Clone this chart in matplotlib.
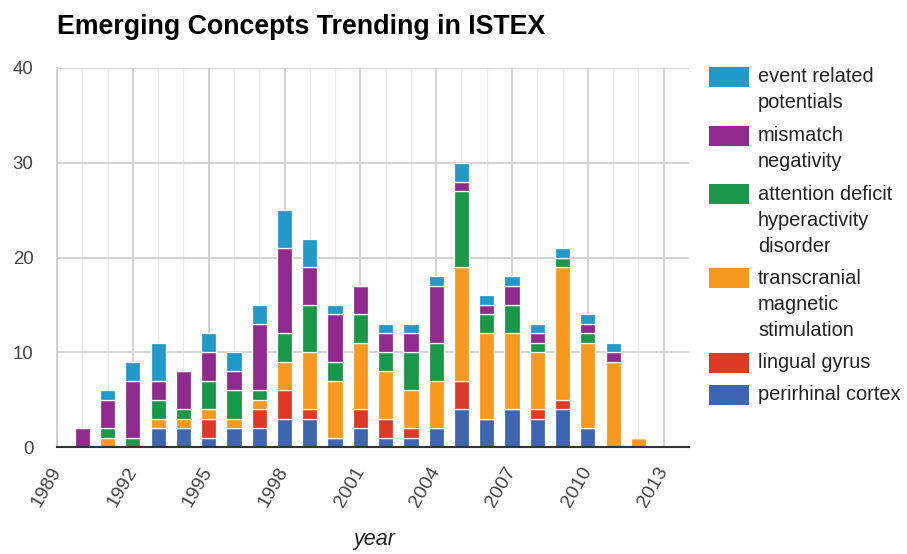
import matplotlib
matplotlib.use('Agg')
import matplotlib.pyplot as plt
from matplotlib.patches import Rectangle
import numpy as np

plt.rcParams['font.family'] = ['Liberation Sans', 'DejaVu Sans']

title = "Emerging Concepts Trending in ISTEX"
x_label = "year"

years = list(range(1990, 2013))
# stacked from bottom to top
perirhinal_cortex = [0, 0, 0, 2, 2, 1, 2, 2, 3, 3, 1, 2, 1, 1, 2, 4, 3, 4, 3, 4, 2, 0, 0]
lingual_gyrus = [0, 0, 0, 0, 0, 2, 0, 2, 3, 1, 0, 2, 2, 1, 0, 3, 0, 0, 1, 1, 0, 0, 0]
transcranial_magnetic_stimulation = [0, 1, 0, 1, 1, 1, 1, 1, 3, 6, 6, 7, 5, 4, 5, 12, 9, 8, 6, 14, 9, 9, 1]
attention_deficit = [0, 1, 1, 2, 1, 3, 3, 1, 3, 5, 2, 3, 2, 4, 4, 8, 2, 3, 1, 1, 1, 0, 0]
mismatch_negativity = [2, 3, 6, 2, 4, 3, 2, 7, 9, 4, 5, 3, 2, 2, 6, 1, 1, 2, 1, 0, 1, 1, 0]
event_related_potentials = [0, 1, 2, 4, 0, 2, 2, 2, 4, 3, 1, 0, 1, 1, 1, 2, 1, 1, 1, 1, 1, 1, 0]

series_names = ["perirhinal cortex", "lingual gyrus",
                "transcranial\nmagnetic\nstimulation",
                "attention deficit\nhyperactivity\ndisorder",
                "mismatch\nnegativity", "event related\npotentials"]
series_values = [perirhinal_cortex, lingual_gyrus, transcranial_magnetic_stimulation,
                 attention_deficit, mismatch_negativity, event_related_potentials]
series_colors = ["#3e65b0", "#dc3a26", "#f7981f", "#1a9748", "#912a8d", "#2299c9"]

y_ticks = [0, 10, 20, 30, 40]
x_major_ticks = [1989, 1992, 1995, 1998, 2001, 2004, 2007, 2010, 2013]

W, H = 907, 554
fig = plt.figure(figsize=(W / 100, H / 100), dpi=100)
ax = fig.add_axes([57 / W, 1 - 447 / H, (689 - 57) / W, (447 - 68) / H])

bottom = np.zeros(len(years))
for vals, col in zip(series_values, series_colors):
    v = np.array(vals, dtype=float)
    ax.bar(years, v, bottom=bottom, width=0.6, color=col, edgecolor='white',
           linewidth=0.9, zorder=3)
    bottom += v

ax.set_xlim(1989, 2014)
ax.set_ylim(0, 40)
ax.set_yticks(y_ticks)
ax.set_yticklabels([str(t) for t in y_ticks])
ax.set_xticks(x_major_ticks)
ax.set_xticklabels([str(t) for t in x_major_ticks], rotation=60, ha='right',
                   va='center', rotation_mode='anchor')
ax.set_xticks(list(range(1989, 2014)), minor=True)

ax.tick_params(axis='x', which='major', length=0, pad=15, labelsize=14, labelcolor='#444444')
ax.tick_params(axis='x', which='minor', length=0)
ax.tick_params(axis='y', length=0, pad=17, labelsize=13.4, labelcolor='#444444')

ax.grid(axis='x', which='minor', color='#ebebeb', linewidth=1.0, zorder=0)
ax.grid(axis='x', which='major', color='#cccccc', linewidth=1.2, zorder=1)
ax.grid(axis='y', which='major', color='#cccccc', linewidth=1.2, zorder=1)

for s in ['top', 'right']:
    ax.spines[s].set_visible(False)
ax.spines['left'].set_color('#cccccc')
ax.spines['left'].set_linewidth(1.2)
ax.spines['bottom'].set_color('#333333')
ax.spines['bottom'].set_linewidth(1.5)
ax.spines['bottom'].set_zorder(4)

ax.set_xlabel(x_label, fontsize=15.5, style='italic', color='#222222', va='center')
ax.xaxis.set_label_coords((374 - 57) / (689 - 57), -(539 - 447) / (447 - 68))

fig.text(57 / W, 1 - 34 / H, title, fontsize=19.3, fontweight='bold', color='#000000',
         ha='left', va='baseline')

# legend (top to bottom: reverse stacking order)
box_tops = [67, 126, 184, 268, 353, 385]
line_h = 26
for (name, col), top in zip(list(zip(series_names, series_colors))[::-1], box_tops):
    fig.add_artist(Rectangle((709 / W, 1 - (top + 20) / H), 40 / W, 20 / H,
                             transform=fig.transFigure, facecolor=col,
                             edgecolor='none'))
    for i, line in enumerate(name.split('\n')):
        yc = top + 10 + i * line_h
        fig.text(758 / W, 1 - yc / H, line, fontsize=14.4, color='#222222',
                 ha='left', va='center')

fig.savefig('out.png', dpi=100)
